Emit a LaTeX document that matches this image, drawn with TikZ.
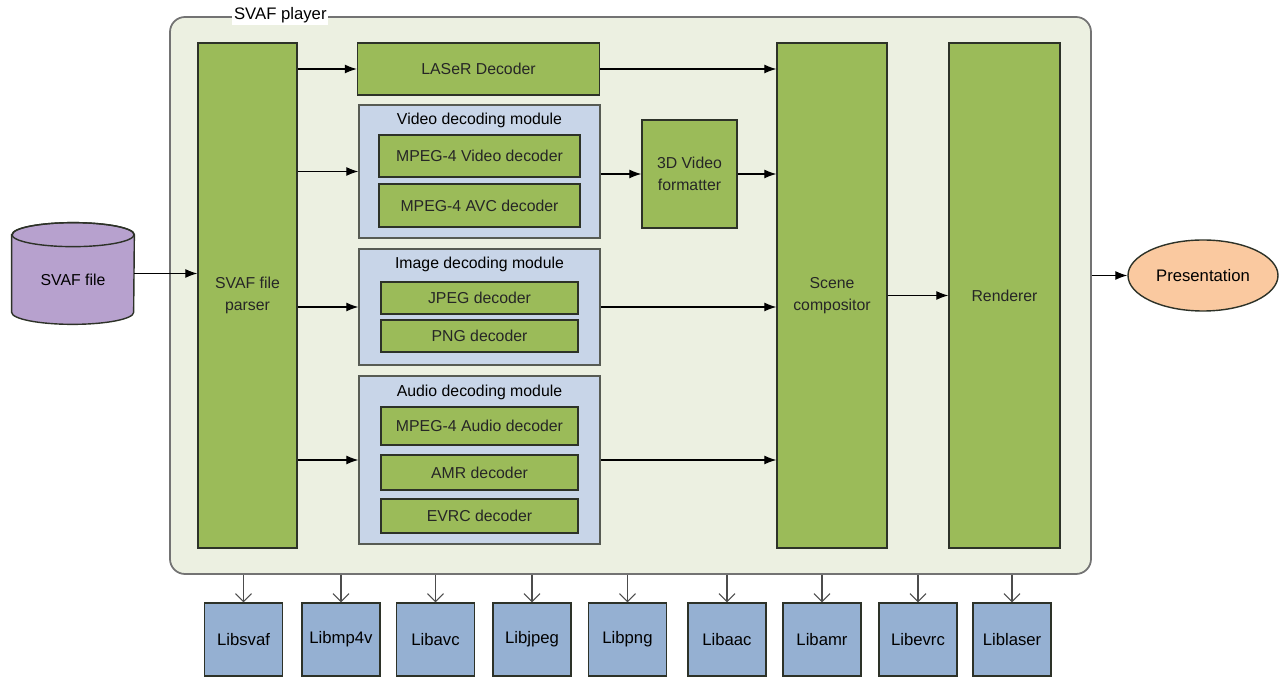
\documentclass[tikz,border=0pt]{standalone}
\usepackage{fontspec}
\setmainfont{Liberation Sans}
\usetikzlibrary{arrows.meta,shapes.geometric,positioning}

\definecolor{playerbg}{RGB}{236,240,225}
\definecolor{blockgreen}{RGB}{155,187,89}
\definecolor{modblue}{RGB}{200,213,232}
\definecolor{libblue}{RGB}{149,176,210}
\definecolor{filepurple}{RGB}{183,161,206}
\definecolor{presorange}{RGB}{250,201,160}
\definecolor{edgegray}{RGB}{45,50,40}

\begin{document}
\begin{tikzpicture}[
    x=0.2mm, y=-0.2mm,
    every node/.style={font=\fontsize{9}{12.5}\selectfont, inner sep=0pt, align=center},
    block/.style={draw=edgegray, line width=0.8pt, fill=blockgreen, text=black!85},
    module/.style={draw=edgegray!80, line width=0.8pt, fill=modblue},
    libbox/.style={draw=edgegray, line width=0.8pt, fill=libblue, minimum width=15.6mm, minimum height=14.6mm, font=\fontsize{9.5}{12}\selectfont},
    flow/.style={-{Latex[length=2.4mm,width=1.8mm]}, line width=0.6pt},
    libarrow/.style={-{Straight Barb[length=1.6mm,width=3.2mm]}, line width=0.6pt, draw=black!70},
]
    \useasboundingbox (0,0) rectangle (1284,684);

    % player frame
    \node[draw=black!55, line width=1pt, fill=playerbg, rounded corners=3mm,
          minimum width=184.2mm, minimum height=111.4mm] (player) at (630.5,295.5) {};
    \node[fill=white, inner sep=1pt, anchor=west, font=\fontsize{9.5}{12}\selectfont] (playertitle) at (232,15) {SVAF player};

    \node[block, minimum width=19.8mm, minimum height=101mm] (parser) at (247.5,295.5) {SVAF file\\parser};
    \node[block, minimum width=48.4mm, minimum height=10.4mm] (laser) at (478.5,69) {LASeR Decoder};

    % decoding modules
    \node[module, minimum width=48.2mm, minimum height=26.6mm] (video) at (479.5,171.5) {};
    \node (videotitle) at ([yshift=-3.2mm]video.north) {Video decoding module};
    \node[block, minimum width=40.2mm, minimum height=8.4mm] (mp4v) at (479.5,156) {MPEG-4 Video decoder};
    \node[block, minimum width=40.2mm, minimum height=8.6mm] (avc) at (479.5,205.5) {MPEG-4 AVC decoder};

    \node[module, minimum width=48.2mm, minimum height=23.2mm] (image) at (479.5,307) {};
    \node (imagetitle) at ([yshift=-3.2mm]image.north) {Image decoding module};
    \node[block, minimum width=39.4mm, minimum height=6.4mm] (jpeg) at (479.5,298) {JPEG decoder};
    \node[block, minimum width=39.4mm, minimum height=6.4mm] (png) at (479.5,336) {PNG decoder};

    \node[module, minimum width=48.2mm, minimum height=33.6mm] (audio) at (479.5,460) {};
    \node (audiotitle) at ([yshift=-3.4mm]audio.north) {Audio decoding module};
    \node[block, minimum width=39.4mm, minimum height=7.6mm] (aac) at (479.5,426) {MPEG-4 Audio decoder};
    \node[block, minimum width=39.4mm, minimum height=7mm] (amr) at (479.5,472.5) {AMR decoder};
    \node[block, minimum width=39.4mm, minimum height=6.8mm] (evrc) at (479.5,516) {EVRC decoder};

    \node[block, minimum width=19mm, minimum height=21.6mm] (fmt) at (689.5,174) {3D Video\\formatter};
    \node[block, minimum width=22mm, minimum height=101mm] (scene) at (832,295.5) {Scene\\compositor};
    \node[block, minimum width=22.2mm, minimum height=101mm] (renderer) at (1004.5,295.5) {Renderer};

    % file drum
    \node[minimum width=24.4mm, minimum height=20.2mm] (file) at (73,273.5) {};
    \draw[draw=edgegray, line width=0.8pt, fill=filepurple]
        ([yshift=-2.4mm]file.north west) -- ([yshift=2.4mm]file.south west)
        arc[start angle=180, end angle=360, x radius=12.2mm, y radius=2.4mm]
        -- ([yshift=-2.4mm]file.north east)
        arc[start angle=0, end angle=180, x radius=12.2mm, y radius=2.4mm] -- cycle;
    \draw[draw=edgegray, line width=0.8pt] ([yshift=-2.4mm]file.north) ellipse[x radius=12.2mm, y radius=2.4mm];
    \node (filetext) at (73,280) {SVAF file};

    \node[ellipse, draw=edgegray, line width=0.8pt, fill=presorange,
          minimum width=30mm, minimum height=14.2mm, font=\fontsize{9.5}{12}\selectfont] (pres) at (1203,275.5) {Presentation};

    % libraries
    \foreach \lname/\x in {Libsvaf/243.5, Libmp4v/341, Libavc/435.5, Libjpeg/532, Libpng/627.5,
                           Libaac/727, Libamr/822, Libevrc/918, Liblaser/1012} {
        \node[libbox] (\lname) at (\x,639.5) {\lname};
        \draw[libarrow] (\lname.north |- player.south) -- (\lname.north);
    }

    \draw[flow] (file.east) -- (file.east -| parser.west);
    \draw[flow] (parser.east |- laser.west) -- (laser.west);
    \draw[flow] (parser.east |- video.west) -- (video.west);
    \draw[flow] (parser.east |- image.west) -- (image.west);
    \draw[flow] (parser.east |- audio.west) -- (audio.west);
    \draw[flow] (laser.east) -- (laser.east -| scene.west);
    \draw[flow] (video.east |- fmt.west) -- (fmt.west);
    \draw[flow] (fmt.east) -- (fmt.east -| scene.west);
    \draw[flow] (image.east) -- (image.east -| scene.west);
    \draw[flow] (audio.east) -- (audio.east -| scene.west);
    \draw[flow] (scene.east |- renderer.west) -- (renderer.west);
    \draw[flow] (player.east |- pres.west) -- (pres.west);
\end{tikzpicture}
\end{document}
